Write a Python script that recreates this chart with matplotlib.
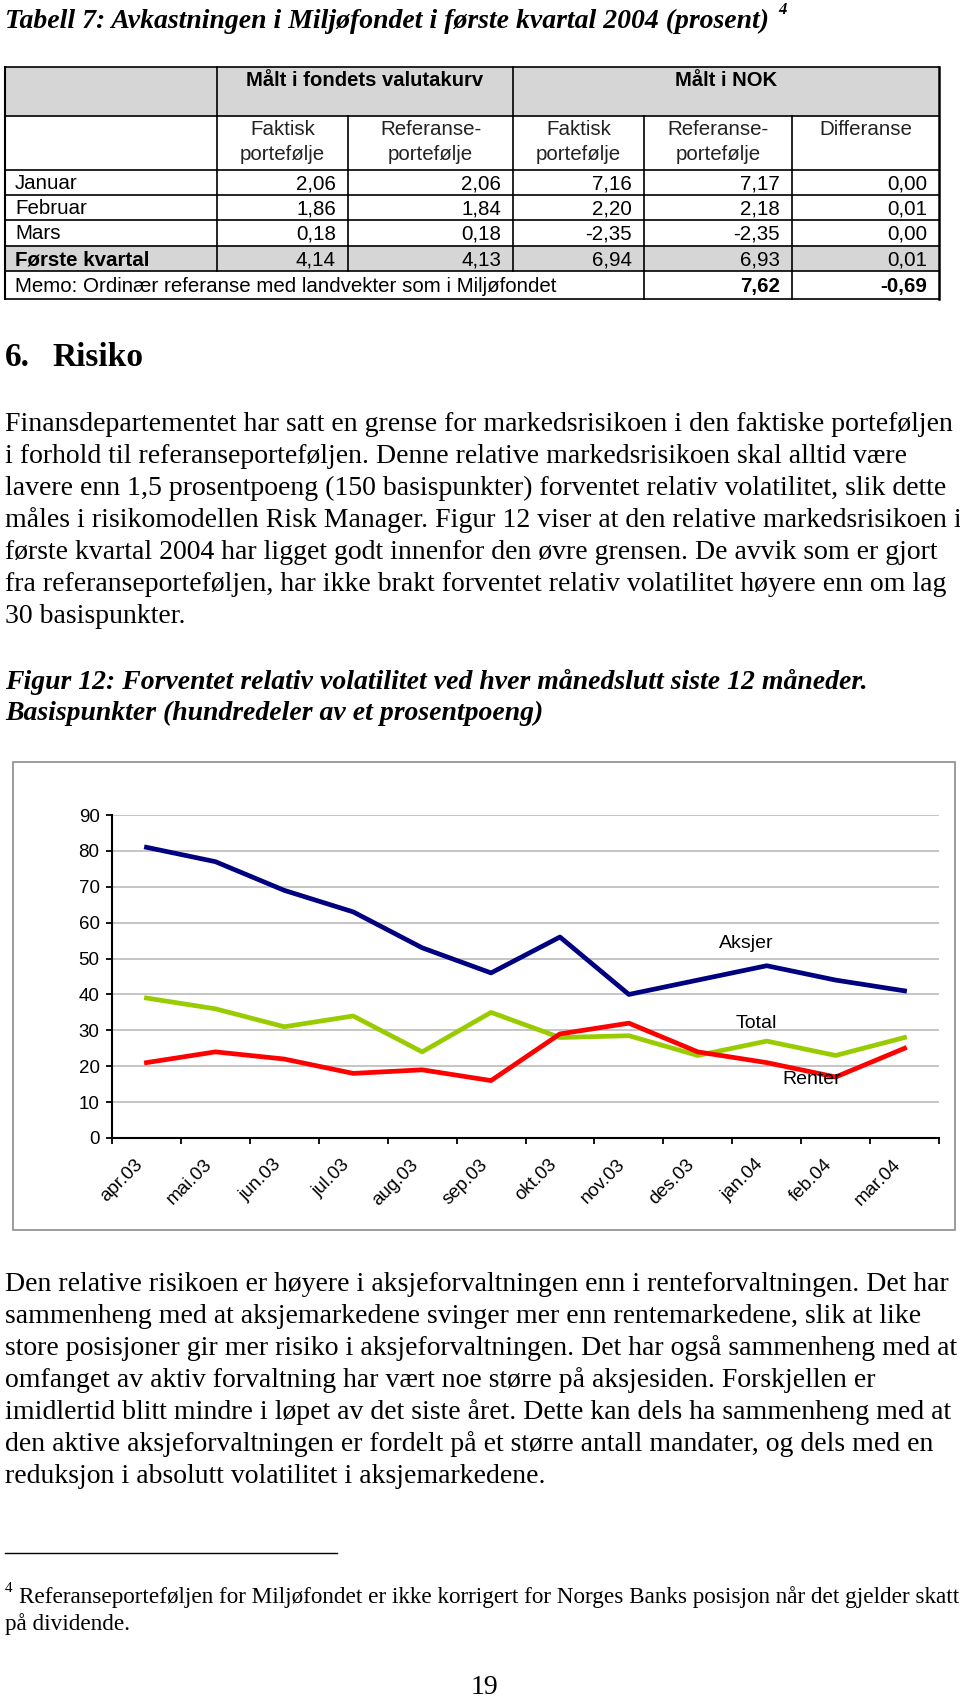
import numpy as np
import matplotlib.pyplot as plt
from matplotlib.patches import Rectangle

W, H = 960, 1698

# tabell 7
row_labels = ['Januar', 'Februar', 'Mars', 'Første kvartal']
faktisk_valuta = ['2,06', '1,86', '0,18', '4,14']
ref_valuta = ['2,06', '1,84', '0,18', '4,13']
faktisk_nok = ['7,16', '2,20', '-2,35', '6,94']
ref_nok = ['7,17', '2,18', '-2,35', '6,93']
differanse = ['0,00', '0,01', '0,00', '0,01']
memo_label = 'Memo: Ordinær referanse med landvekter som i Miljøfondet'
memo_nok = '7,62'
memo_diff = '-0,69'

# figur 12
months = ['apr.03', 'mai.03', 'jun.03', 'jul.03', 'aug.03', 'sep.03',
          'okt.03', 'nov.03', 'des.03', 'jan.04', 'feb.04', 'mar.04']
aksjer = [81, 77, 69, 63, 53, 46, 56, 40, 44, 48, 44, 41]
total = [39, 36, 31, 34, 24, 35, 28, 28.5, 23, 27, 23, 28]
renter = [21, 24, 22, 18, 19, 16, 29, 32, 24, 21, 17, 25]

para1 = ['Finansdepartementet har satt en grense for markedsrisikoen i den faktiske porteføljen',
         'i forhold til referanseporteføljen. Denne relative markedsrisikoen skal alltid være',
         'lavere enn 1,5 prosentpoeng (150 basispunkter) forventet relativ volatilitet, slik dette',
         'måles i risikomodellen Risk Manager. Figur 12 viser at den relative markedsrisikoen i',
         'første kvartal 2004 har ligget godt innenfor den øvre grensen. De avvik som er gjort',
         'fra referanseporteføljen, har ikke brakt forventet relativ volatilitet høyere enn om lag',
         '30 basispunkter.']
para2 = ['Den relative risikoen er høyere i aksjeforvaltningen enn i renteforvaltningen. Det har',
         'sammenheng med at aksjemarkedene svinger mer enn rentemarkedene, slik at like',
         'store posisjoner gir mer risiko i aksjeforvaltningen. Det har også sammenheng med at',
         'omfanget av aktiv forvaltning har vært noe større på aksjesiden. Forskjellen er',
         'imidlertid blitt mindre i løpet av det siste året. Dette kan dels ha sammenheng med at',
         'den aktive aksjeforvaltningen er fordelt på et større antall mandater, og dels med en',
         'reduksjon i absolutt volatilitet i aksjemarkedene.']

serif = ['Liberation Serif', 'DejaVu Serif']
sans = ['Liberation Sans', 'DejaVu Sans']
body = 20
tab = 14.8

fig = plt.figure(figsize=(W / 100, H / 100), dpi=100)
ax0 = fig.add_axes([0, 0, 1, 1])
ax0.set_xlim(0, W)
ax0.set_ylim(H, 0)
ax0.axis('off')

def put(x, y, s, **kw):
    kw.setdefault('va', 'baseline')
    ax0.text(x, y, s, **kw)

# title
put(5, 28, 'Tabell 7: Avkastningen i Miljøfondet i første kvartal 2004 (prosent)',
    family=serif, fontsize=body, weight='bold', style='italic')
put(778, 14, '4', family=serif, fontsize=12, weight='bold', style='italic')

# table
cx = [5, 217, 348, 513, 644, 792, 939]
ry = [67, 116, 170, 195, 220, 246, 271, 299]
ax0.add_patch(Rectangle((cx[0], ry[0]), cx[-1] - cx[0], ry[1] - ry[0], color='#D6D6D6', lw=0))
ax0.add_patch(Rectangle((cx[0], ry[5]), cx[-1] - cx[0], ry[6] - ry[5], color='#D6D6D6', lw=0))
for y in ry:
    ax0.plot([cx[0], cx[-1]], [y, y], color='black', lw=1.2)
ax0.plot([cx[0], cx[0]], [ry[0], ry[-1]], color='black', lw=1.5)
ax0.plot([cx[-1], cx[-1]], [ry[0], ry[-1]], color='black', lw=1.8)
for x in [cx[1], cx[3]]:
    ax0.plot([x, x], [ry[0], ry[1]], color='black', lw=1.2)
for x in cx[1:-1]:
    ax0.plot([x, x], [ry[1], ry[6]], color='black', lw=1.2)
for x in [cx[4], cx[5]]:
    ax0.plot([x, x], [ry[6], ry[7]], color='black', lw=1.2)

put((cx[1] + cx[3]) / 2, 86, 'Målt i fondets valutakurv', family=sans, fontsize=14.6,
    weight='bold', ha='center')
put((cx[3] + cx[6]) / 2, 86, 'Målt i NOK', family=sans, fontsize=14.6, weight='bold', ha='center')
heads = ['Faktisk\nportefølje', 'Referanse-\nportefølje', 'Faktisk\nportefølje',
         'Referanse-\nportefølje', 'Differanse']
for i, h in enumerate(heads):
    for j, part in enumerate(h.split('\n')):
        put((cx[i + 1] + cx[i + 2]) / 2, 135 + j * 25, part, family=sans, fontsize=tab,
            ha='center', color='#222222')

cols = [faktisk_valuta, ref_valuta, faktisk_nok, ref_nok, differanse]
for r, lab in enumerate(row_labels):
    yb = ry[r + 2] + 19
    put(cx[0] + 10, yb, lab, family=sans, fontsize=tab,
        weight='bold' if r == 3 else 'normal')
    for c, col in enumerate(cols):
        put(cx[c + 2] - 12, yb, col[r], family=sans, fontsize=tab, ha='right')
put(cx[0] + 10, ry[6] + 21, memo_label, family=sans, fontsize=tab)
put(cx[5] - 12, ry[6] + 21, memo_nok, family=sans, fontsize=tab, weight='bold', ha='right')
put(cx[6] - 12, ry[6] + 21, memo_diff, family=sans, fontsize=tab, weight='bold', ha='right')

# section text
put(5, 366, '6.', family=serif, fontsize=24, weight='bold')
put(52, 366, 'Risiko', family=serif, fontsize=24, weight='bold')
for i, line in enumerate(para1):
    put(5, 431 + 32 * i, line, family=serif, fontsize=body)

put(5, 689, 'Figur 12: Forventet relativ volatilitet ved hver månedslutt siste 12 måneder.',
    family=serif, fontsize=body, weight='bold', style='italic')
put(5, 720, 'Basispunkter (hundredeler av et prosentpoeng)',
    family=serif, fontsize=body, weight='bold', style='italic')

# chart frame
ax0.add_patch(Rectangle((13, 762), 942, 468, fill=False, edgecolor='#8C8C8C', lw=1.2))

ax = fig.add_axes([112 / W, 1 - 1138 / H, 827 / W, (1138 - 815) / H])
x = np.arange(len(months)) + 0.5
ax.plot(x, aksjer, color='#000080', lw=3.4)
ax.plot(x, total, color='#99CC00', lw=3.4)
ax.plot(x, renter, color='#FF0000', lw=3.4)
ax.set_xlim(0, 12)
ax.set_ylim(0, 90)
ax.set_yticks(range(0, 100, 10))
ax.set_xticks(range(13))
ax.set_xticklabels([])
ax.set_xticks(x, minor=True)
ax.set_xticklabels(months, minor=True, rotation=45, ha='right', family=sans, fontsize=13.5)
ax.tick_params(axis='x', which='minor', length=0, pad=13)
ax.tick_params(axis='x', which='major', length=4.5, width=1.3, direction='out')
ax.tick_params(axis='y', length=4, width=1.3, pad=5, labelsize=13.5)
for t in ax.get_yticklabels():
    t.set_family(sans)
ax.yaxis.grid(True, color='#C0C0C0', lw=1.3)
ax.set_axisbelow(True)
for s in ['top', 'right']:
    ax.spines[s].set_visible(False)
for s in ['left', 'bottom']:
    ax.spines[s].set_linewidth(1.5)
ax.patch.set_alpha(0)
ax.text(9.2, 54.3, 'Aksjer', family=sans, fontsize=14, ha='center', va='center')
ax.text(9.35, 32, 'Total', family=sans, fontsize=14, ha='center', va='center')
ax.text(10.15, 16.2, 'Renter', family=sans, fontsize=14, ha='center', va='center')

for i, line in enumerate(para2):
    put(5, 1291 + 32 * i, line, family=serif, fontsize=body)

# footnote
ax0.plot([5, 337], [1553, 1553], color='black', lw=1)
put(5, 1592, '4', family=serif, fontsize=11)
put(19, 1603, 'Referanseporteføljen for Miljøfondet er ikke korrigert for Norges Banks posisjon når det gjelder skatt',
    family=serif, fontsize=16.7)
put(5, 1630, 'på dividende.', family=serif, fontsize=16.7)
put(484, 1694, '19', family=serif, fontsize=body, ha='center')

fig.savefig('out.png', dpi=100)
